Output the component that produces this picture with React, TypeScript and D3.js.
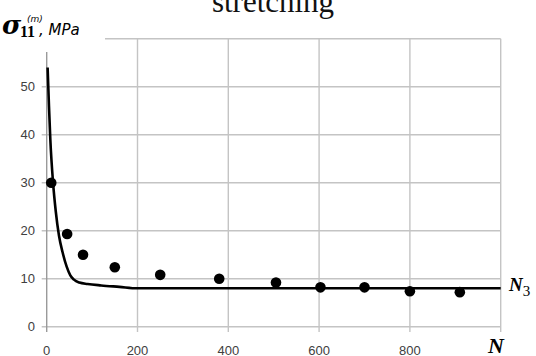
import React from "react";
import * as d3 from "d3";

const curveN = [2, 5, 8, 14, 20, 27, 35, 44, 52, 60, 72, 90, 120, 160, 200, 400, 1000];
const curveS = [54, 46, 39, 30, 24, 19, 15.5, 12.5, 10.7, 9.8, 9.2, 8.9, 8.6, 8.3, 8.0, 8.0, 8.0];

const pointN = [10, 45, 80, 150, 250, 380, 505, 603, 700, 800, 910];
const pointS = [30, 19.3, 15, 12.4, 10.8, 10, 9.2, 8.2, 8.2, 7.4, 7.2];

const xTicks = [0, 200, 400, 600, 800, 1000];
const xTickLabels = ["0", "200", "400", "600", "800", ""];
const yTicks = [0, 10, 20, 30, 40, 50, 60];
const yTickLabels = ["0", "10", "20", "30", "40", "50", ""];

export default function App() {
  const W = 536, H = 356;
  const x = d3.scaleLinear().domain([0, 1000]).range([46.7, 500.7]);
  const y = d3.scaleLinear().domain([0, 60]).range([326.7, 38.7]);
  const grid = "#c4c4c4";
  const labelColor = "#404040";

  const line = d3
    .line<number>()
    .x((_, i) => x(curveN[i]))
    .y((d) => y(d))
    .curve(d3.curveMonotoneX);

  return (
    <svg
      width={W}
      height={H}
      style={{ position: "absolute", left: 0, top: 0, background: "#fff" }}
    >
      {/* title (cut off) */}
      <text
        x={273}
        y={12}
        textAnchor="middle"
        fontFamily="Liberation Serif, serif"
        fontSize={31}
        fill="#111"
      >
        stretching
      </text>

      {/* horizontal gridlines */}
      {yTicks.map((t, i) => (
        <line
          key={"h" + i}
          x1={t === 60 ? 105 : 41.7}
          x2={500.7}
          y1={y(t)}
          y2={y(t)}
          stroke={grid}
          strokeWidth={1.4}
        />
      ))}
      {/* vertical gridlines */}
      {xTicks.map((t, i) => (
        <line
          key={"v" + i}
          x1={x(t)}
          x2={x(t)}
          y1={t === 0 ? 52 : y(60)}
          y2={332}
          stroke={t === 0 ? "#9a9a9a" : grid}
          strokeWidth={1.4}
        />
      ))}

      {/* y tick labels */}
      {yTicks.map((t, i) => (
        <text
          key={"yl" + i}
          x={35}
          y={y(t)}
          dy="0.35em"
          textAnchor="end"
          fontFamily="Liberation Sans, Arial, sans-serif"
          fontSize={13}
          fill={labelColor}
        >
          {yTickLabels[i]}
        </text>
      ))}
      {/* x tick labels */}
      {xTicks.map((t, i) => (
        <text
          key={"xl" + i}
          x={x(t)}
          y={355}
          textAnchor="middle"
          fontFamily="Liberation Sans, Arial, sans-serif"
          fontSize={13}
          fill={labelColor}
        >
          {xTickLabels[i]}
        </text>
      ))}

      {/* curve */}
      <path d={line(curveS) || ""} fill="none" stroke="#000" strokeWidth={2.6} />

      {/* points */}
      {pointS.map((s, i) => (
        <circle key={"p" + i} cx={x(pointN[i])} cy={y(s)} r={5.3} fill="#000" />
      ))}

      {/* y axis label */}
      <text x={2} y={34} fontFamily="DejaVu Serif, serif" fontSize={26} fontStyle="italic" fontWeight="bold" fill="#000">
        σ
      </text>
      <text x={20} y={37} fontFamily="Liberation Serif, serif" fontSize={16} fontWeight="bold" fill="#000">
        11
      </text>
      <text x={27} y={22} fontFamily="DejaVu Sans, sans-serif" fontSize={9} fontStyle="italic" fill="#000">
        (m)
      </text>
      <text x={39} y={35} fontFamily="DejaVu Sans, sans-serif" fontSize={15} fontStyle="italic" fill="#000">
        , MPa
      </text>

      {/* N3 label */}
      <text x={509} y={291} fontFamily="Liberation Serif, serif" fill="#000">
        <tspan fontSize={19} fontStyle="italic" fontWeight="bold">N</tspan>
        <tspan fontSize={15} dy={5}>3</tspan>
      </text>
      {/* N axis label */}
      <text
        x={496}
        y={353}
        textAnchor="middle"
        fontFamily="Liberation Serif, serif"
        fontSize={22}
        fontStyle="italic"
        fontWeight="bold"
        fill="#000"
      >
        N
      </text>
    </svg>
  );
}
